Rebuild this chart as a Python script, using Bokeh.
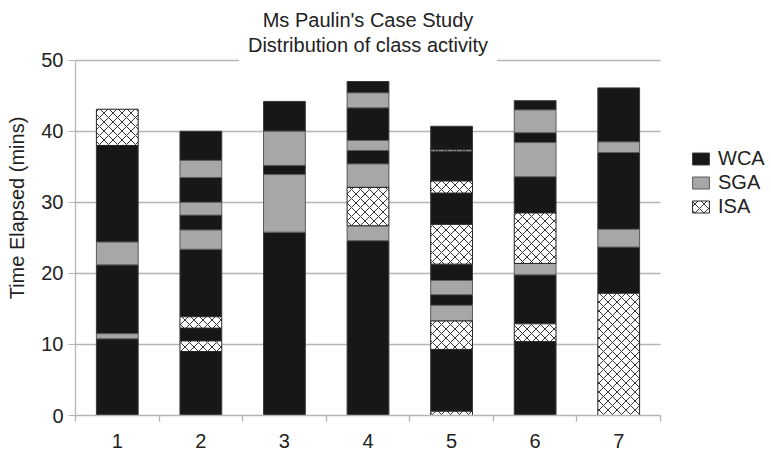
from bokeh.plotting import figure
from bokeh.models import (ColumnDataSource, FixedTicker, Legend, LegendItem, Label, Grid)
from bokeh.embed import file_html
from bokeh.resources import INLINE

# ---- data: segment tops (minutes, bottom-up) and activity of each segment ----
session_labels = ["1", "2", "3", "4", "5", "6", "7"]
activities = ["WCA", "SGA", "ISA"]

s1_ends = [10.8, 11.5, 21.2, 24.4, 38.0, 43.1]
s1_acts = ["WCA", "SGA", "WCA", "SGA", "WCA", "ISA"]

s2_ends = [9.0, 10.5, 12.3, 13.9, 23.4, 26.1, 28.2, 30.0, 33.5, 35.9, 40.0]
s2_acts = ["WCA", "ISA", "WCA", "ISA", "WCA", "SGA", "WCA", "SGA", "WCA", "SGA", "WCA"]

s3_ends = [25.8, 33.9, 35.2, 40.0, 44.2]
s3_acts = ["WCA", "SGA", "WCA", "SGA", "WCA"]

s4_ends = [24.6, 26.7, 32.1, 35.4, 37.3, 38.7, 43.3, 45.4, 47.0]
s4_acts = ["WCA", "SGA", "ISA", "SGA", "WCA", "SGA", "WCA", "SGA", "WCA"]

s5_ends = [0.6, 9.3, 13.3, 15.5, 17.0, 19.0, 21.3, 26.9, 31.3, 33.0, 37.2, 37.4, 40.7]
s5_acts = ["ISA", "WCA", "ISA", "SGA", "WCA", "SGA", "WCA", "ISA", "WCA", "ISA", "WCA", "ISA", "WCA"]

s6_ends = [10.4, 12.9, 19.8, 21.4, 28.5, 33.6, 38.4, 39.8, 43.0, 44.3]
s6_acts = ["WCA", "ISA", "WCA", "SGA", "ISA", "WCA", "SGA", "WCA", "SGA", "WCA"]

s7_ends = [17.2, 23.7, 26.2, 37.0, 38.5, 46.1]
s7_acts = ["ISA", "WCA", "SGA", "WCA", "SGA", "WCA"]

sessions = [(s1_ends, s1_acts), (s2_ends, s2_acts), (s3_ends, s3_acts), (s4_ends, s4_acts),
            (s5_ends, s5_acts), (s6_ends, s6_acts), (s7_ends, s7_acts)]

y_ticks = [0, 10, 20, 30, 40, 50]

# ---- build sources ----
cols = {a: dict(x=[], bottom=[], top=[]) for a in activities}
for i, (ends, acts) in enumerate(sessions):
    prev = 0.0
    for e, a in zip(ends, acts):
        cols[a]["x"].append(i + 1)
        cols[a]["bottom"].append(prev)
        cols[a]["top"].append(e)
        prev = e
sources = {a: ColumnDataSource(cols[a]) for a in activities}

FONT = "Liberation Sans"
GRID = "#b5b5b5"
TXT = "#222222"

n = len(session_labels)
x_lo, x_hi = 0.5, n + 0.5
# frame extends to the right edge so that the legend sits inside it
x_end = x_lo + n * (771 - 75) / 585.0

p = figure(width=771, height=450, output_backend="svg", toolbar_location=None,
           title=None, x_range=(x_lo, x_end), y_range=(0, 58.4),
           min_border_left=75, min_border_right=0, min_border_top=0, min_border_bottom=34)
p.outline_line_color = None
p.background_fill_color = "white"
p.border_fill_color = "white"

# grids
p.xgrid.visible = False
if "cross_bounds" in Grid.properties():
    p.ygrid.grid_line_color = GRID
    p.ygrid.grid_line_width = 1.3
    p.ygrid.cross_bounds = (x_lo, x_hi)
else:
    p.ygrid.visible = False
    p.segment(x0=[x_lo] * len(y_ticks), x1=[x_hi] * len(y_ticks), y0=y_ticks, y1=y_ticks,
              line_color=GRID, line_width=1.3, level="underlay")

# y axis
p.yaxis.ticker = FixedTicker(ticks=y_ticks, minor_ticks=[])
p.yaxis.bounds = (0, 50)
p.yaxis.axis_line_color = GRID
p.yaxis.axis_line_width = 1.3
p.yaxis.major_tick_line_color = GRID
p.yaxis.major_tick_in = 0
p.yaxis.major_tick_out = 7
p.yaxis.major_label_standoff = 5
p.yaxis.major_label_text_font = FONT
p.yaxis.major_label_text_font_size = "20px"
p.yaxis.major_label_text_color = TXT
p.yaxis.axis_label = "Time Elapsed (mins)"
p.yaxis.axis_label_text_font = FONT
p.yaxis.axis_label_text_font_size = "20px"
p.yaxis.axis_label_text_font_style = "normal"
p.yaxis.axis_label_text_color = TXT
p.yaxis.axis_label_standoff = 10

# x axis
p.xaxis.ticker = FixedTicker(ticks=list(range(1, n + 1)),
                             minor_ticks=[k + 0.5 for k in range(0, n + 1)])
p.xaxis.bounds = (x_lo, x_hi)
p.xaxis.major_label_overrides = {i + 1: lab for i, lab in enumerate(session_labels)}
p.xaxis.axis_line_color = GRID
p.xaxis.axis_line_width = 1.3
p.xaxis.major_tick_line_color = None
p.xaxis.major_tick_in = 0
p.xaxis.major_tick_out = 0
p.xaxis.minor_tick_line_color = GRID
p.xaxis.minor_tick_line_width = 1.3
p.xaxis.minor_tick_in = 0
p.xaxis.minor_tick_out = 6
p.xaxis.major_label_standoff = 12
p.xaxis.major_label_text_font = FONT
p.xaxis.major_label_text_font_size = "20px"
p.xaxis.major_label_text_color = TXT

# bars
styles = {
    "WCA": dict(fill_color="#171717", line_color="#3a3a3a"),
    "SGA": dict(fill_color="#a7a7a7", line_color="#5a5a5a"),
    "ISA": dict(fill_color="white", line_color="#222222", hatch_pattern="diagonal_cross",
                hatch_color="#333333", hatch_scale=9, hatch_weight=1),
}
renderers = {}
for a in activities:
    renderers[a] = p.vbar(x="x", bottom="bottom", top="top", width=0.5, source=sources[a],
                          line_width=1, **styles[a])

legend = Legend(items=[LegendItem(label=a, renderers=[renderers[a]]) for a in activities],
                location=(615, 197), border_line_color=None, background_fill_alpha=0,
                padding=0, margin=0, spacing=1, glyph_width=21, glyph_height=15,
                label_standoff=7, label_text_font=FONT, label_text_font_size="20px",
                label_text_color=TXT, label_height=22)
p.add_layout(legend)

# title (two lines, second one masking the top gridline)
t2 = Label(x=4, y=52.1, text="Distribution of class activity", text_align="center",
           text_baseline="middle", text_font=FONT, text_font_size="20px", text_color=TXT,
           background_fill_color="white", padding=9)
t1 = Label(x=4, y=55.6, text="Ms Paulin's Case Study", text_align="center",
           text_baseline="middle", text_font=FONT, text_font_size="20px", text_color=TXT)
p.add_layout(t2)
p.add_layout(t1)

open("out.html", "w").write(file_html(p, INLINE))
